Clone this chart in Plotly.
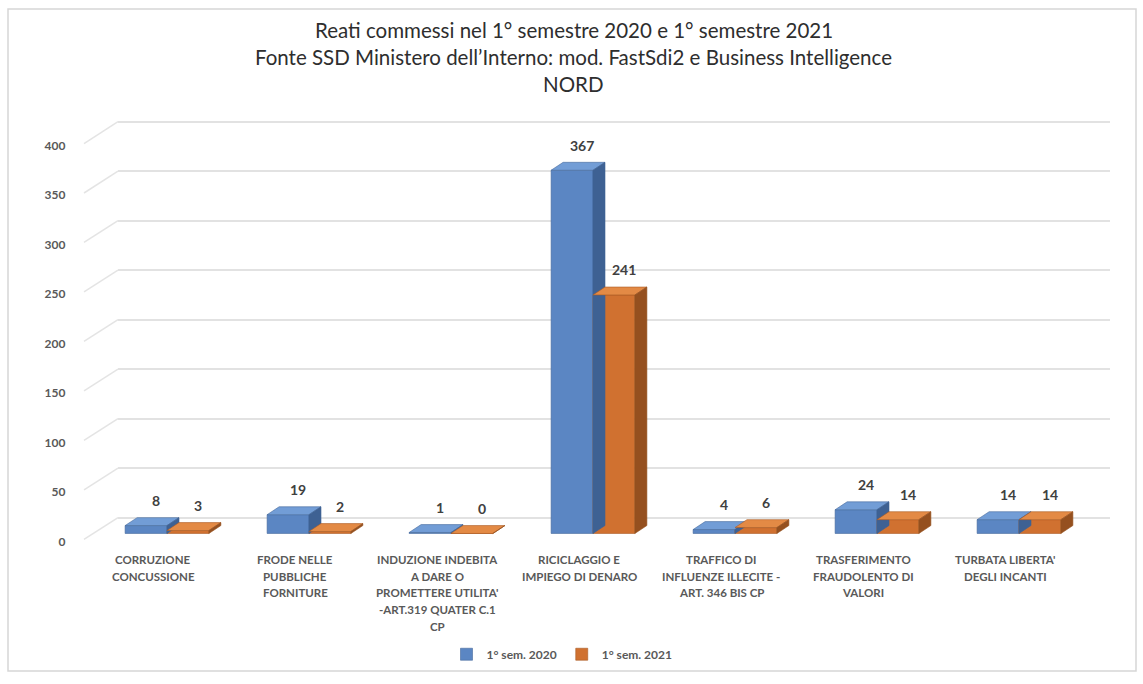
import plotly.graph_objects as go

# ---- data -------------------------------------------------------------
CATEGORIES = [
    "CORRUZIONE\nCONCUSSIONE",
    "FRODE NELLE\nPUBBLICHE\nFORNITURE",
    "INDUZIONE INDEBITA\nA DARE O\nPROMETTERE UTILITA'\n-ART.319 QUATER C.1\nCP",
    "RICICLAGGIO E\nIMPIEGO DI DENARO",
    "TRAFFICO DI\nINFLUENZE ILLECITE -\nART. 346 BIS CP",
    "TRASFERIMENTO\nFRAUDOLENTO DI\nVALORI",
    "TURBATA LIBERTA'\nDEGLI INCANTI",
]
SEM_2020 = [8, 19, 1, 367, 4, 24, 14]
SEM_2021 = [3, 2, 0, 241, 6, 14, 14]
SERIES_NAMES = ["1° sem. 2020", "1° sem. 2021"]
Y_TICKS = list(range(0, 401, 50))
TITLE_LINES = [
    "Reati commessi nel 1° semestre 2020 e 1° semestre 2021",
    "Fonte SSD Ministero dell’Interno: mod. FastSdi2 e Business Intelligence",
    "NORD",
]

# ---- page geometry (pixels) -------------------------------------------
W, H = 1143, 684


def fx(px):
    return px / W


def fy(py):
    return 1 - py / H


FONT = "Lato, 'Open Sans', 'Liberation Sans', sans-serif"
TXT = "#595959"

# front plane (bars): category centres and value scale
C0, STEP = 167, 142          # px of first category centre, px per category
BASE, PPU = 539, 1.0         # px of value 0, px per unit
XR = [-0.68, 6.62]
YR = [-8, 420]
bar_dom_x = [fx(C0 + XR[0] * STEP), fx(C0 + XR[1] * STEP)]
bar_dom_y = [fy(BASE - YR[0] * PPU), fy(BASE - YR[1] * PPU)]

# back wall (gridlines)
BACK_BASE, BACK_L, BACK_R = 523, 118, 1110
GR = [-2, 410]
grid_dom_y = [fy(BACK_BASE - GR[0] * PPU), fy(BACK_BASE - GR[1] * PPU)]
grid_dom_x = [fx(BACK_L), fx(BACK_R)]

BAR_W = 0.295                 # bar width in category units
DX = 12 / STEP                # depth offset, category units
DY = 8 / PPU                  # depth offset, value units

STYLES = [
    dict(front="#5b86c3", top="#729dd6", side="#3e6193", edge="#46699c"),
    dict(front="#d07130", top="#e38a45", side="#95501f", edge="#a95b24"),
]

fig = go.Figure()

# anchor trace for the back-wall grid subplot
fig.add_trace(go.Scatter(x=[0], y=[0], xaxis="x", yaxis="y", mode="markers",
                         marker=dict(opacity=0), hoverinfo="skip",
                         showlegend=False))

for s, (vals, name) in enumerate(zip([SEM_2020, SEM_2021], SERIES_NAMES)):
    st = STYLES[s]
    offset = -BAR_W if s == 0 else 0.0
    xs = list(range(len(vals)))
    fig.add_trace(go.Bar(
        x=xs, y=vals, name=name, width=BAR_W, offset=offset,
        marker=dict(color=st["front"], line=dict(color=st["edge"], width=0.6)),
        xaxis="x2", yaxis="y2", hoverinfo="skip",
    ))
    # top and side faces of each bar
    tx, ty, sx, sy = [], [], [], []
    for k, v in enumerate(vals):
        xl = k + offset
        xr = xl + BAR_W
        tx += [xl, xr, xr + DX, xl + DX, xl, None]
        ty += [v, v, v + DY, v + DY, v, None]
        sx += [xr, xr + DX, xr + DX, xr, xr, None]
        sy += [0, DY, v + DY, v, 0, None]
    fig.add_trace(go.Scatter(x=tx, y=ty, fill="toself", fillcolor=st["top"],
                             mode="lines", line=dict(color=st["edge"], width=0.6),
                             xaxis="x2", yaxis="y2", hoverinfo="skip",
                             showlegend=False))
    fig.add_trace(go.Scatter(x=sx, y=sy, fill="toself", fillcolor=st["side"],
                             mode="lines", line=dict(color=st["side"], width=0.6),
                             xaxis="x2", yaxis="y2", hoverinfo="skip",
                             showlegend=False))

annotations = []
# value labels above each bar
for s, vals in enumerate([SEM_2020, SEM_2021]):
    for k, v in enumerate(vals):
        cx = k - BAR_W / 2 if s == 0 else k + BAR_W / 2
        annotations.append(dict(
            x=cx, y=v, xref="x2", yref="y2", text=str(v), showarrow=False,
            xanchor="center", yanchor="middle", xshift=10, yshift=25,
            font=dict(family=FONT, size=14, color="#404040", weight="bold"),
        ))

# category labels, one annotation per line
LABEL_SHIFT = 14 / STEP
for k, cat in enumerate(CATEGORIES):
    for i, line in enumerate(cat.split("\n")):
        annotations.append(dict(
            x=k - LABEL_SHIFT, y=fy(565 + 17 * i), xref="x2", yref="paper",
            text=line, showarrow=False, xanchor="center", yanchor="middle",
            font=dict(family=FONT, size=11.5, color=TXT, weight="bold"),
        ))

# title
for i, line in enumerate(TITLE_LINES):
    annotations.append(dict(
        x=fx(574), y=fy(30 + 27.5 * i), xref="paper", yref="paper",
        text=line, showarrow=False, xanchor="center", yanchor="middle",
        font=dict(family=FONT, size=20.5, color="#2e2e2e"),
    ))

# perspective edges joining each tick to the back wall
shapes = []
for v in Y_TICKS:
    shapes.append(dict(type="line", xref="paper", yref="paper",
                       x0=fx(84), y0=fy(545 - v * PPU),
                       x1=fx(BACK_L), y1=fy(BACK_BASE - v * PPU),
                       line=dict(color="#e4e4e4", width=1.5), layer="below"))
# chart-area border
shapes.append(dict(type="rect", xref="paper", yref="paper",
                   x0=fx(8), y0=fy(678), x1=fx(1136), y1=fy(9),
                   line=dict(color="#d6d6d6", width=1.5), layer="below"))

fig.update_layout(
    width=W, height=H,
    margin=dict(l=0, r=0, t=0, b=0),
    paper_bgcolor="white", plot_bgcolor="rgba(0,0,0,0)",
    barmode="overlay",
    showlegend=True,
    legend=dict(orientation="h", x=fx(562), xanchor="center",
                y=fy(661), yanchor="middle",
                font=dict(family=FONT, size=12, color=TXT, weight="bold"),
                bgcolor="rgba(0,0,0,0)", itemwidth=30),
    xaxis=dict(domain=grid_dom_x, range=[0, 1], anchor="y",
               showgrid=False, zeroline=False, showticklabels=False,
               showline=False, fixedrange=True),
    yaxis=dict(domain=grid_dom_y, range=GR, anchor="x",
               tickvals=Y_TICKS, showgrid=True, gridcolor="#e2e2e2",
               gridwidth=1.5, zeroline=False, showticklabels=False,
               showline=False, fixedrange=True),
    xaxis2=dict(domain=bar_dom_x, range=XR, anchor="y2",
                showgrid=False, zeroline=False, showticklabels=False,
                showline=False, fixedrange=True),
    yaxis2=dict(domain=bar_dom_y, range=YR, anchor="x2",
                tickvals=Y_TICKS, showgrid=False, zeroline=False,
                showline=False, ticks="", ticklabelshift=8,
                ticklabelstandoff=4,
                tickfont=dict(family=FONT, size=12, color=TXT, weight="bold"),
                fixedrange=True),
    annotations=annotations,
    shapes=shapes,
)

fig.write_html("out.html")
